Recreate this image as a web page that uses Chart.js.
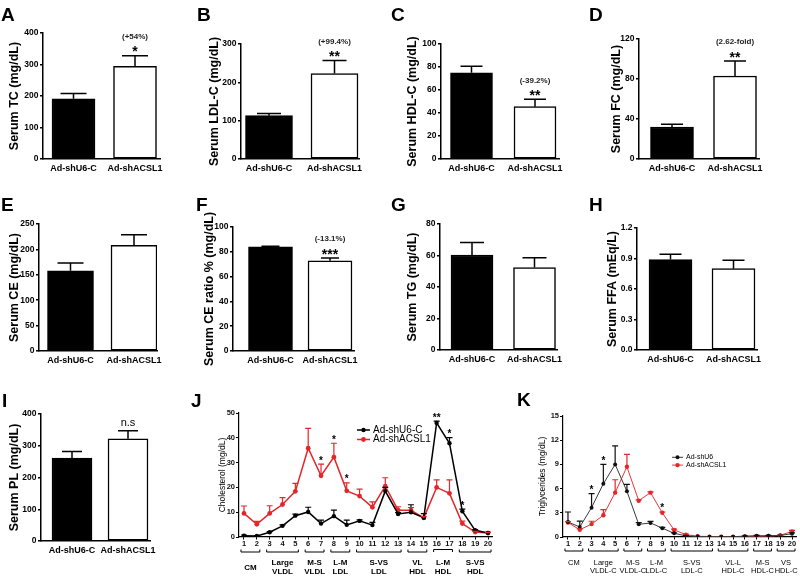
<!DOCTYPE html>
<html><head><meta charset="utf-8">
<script src="https://cdn.jsdelivr.net/npm/chart.js@4.4.0/dist/chart.umd.min.js"></script>
<style>
html,body{margin:0;padding:0;background:#fff;}
body{width:800px;height:577px;position:relative;overflow:hidden;font-family:"Liberation Sans",Arial,sans-serif;}
canvas{position:absolute;}
.lt{position:absolute;font-weight:bold;font-size:19px;line-height:1;color:#000;font-family:"Liberation Sans",Arial,sans-serif;}
</style></head><body>
<script>
// ---------- DATA ----------
const cats = ['Ad-shU6-C', 'Ad-shACSL1'];

const tcMean = [191, 294], tcErr = [17, 34], tcTicks = [0, 100, 200, 300, 400];
const tcStars = ['', '*'], tcNotes = ['', '(+54%)'];

const ldlMean = [113, 223], ldlErr = [6, 34], ldlTicks = [0, 100, 200, 300];
const ldlStars = ['', '**'], ldlNotes = ['', '(+99.4%)'];

const hdlMean = [75, 45.5], hdlErr = [5.6, 6.4], hdlTicks = [0, 20, 40, 60, 80, 100];
const hdlStars = ['', '**'], hdlNotes = ['', '(-39.2%)'];

const fcMean = [32, 83], fcErr = [2.8, 15], fcTicks = [0, 40, 80, 120];
const fcStars = ['', '**'], fcNotes = ['', '(2.62-fold)'];

const ceMean = [158, 208], ceErr = [15, 21], ceTicks = [0, 50, 100, 150, 200, 250];

const ceRatioMean = [84, 72.8], ceRatioErr = [0.4, 2.2], ceRatioTicks = [0, 20, 40, 60, 80, 100];
const ceRatioStars = ['', '***'], ceRatioNotes = ['', '(-13.1%)'];

const tgMean = [60.3, 52.4], tgErr = [8, 6.2], tgTicks = [0, 20, 40, 60, 80];

const ffaMean = [0.89, 0.80], ffaErr = [0.052, 0.082], ffaTicks = [0, 0.3, 0.6, 0.9, 1.2];

const plMean = [261, 322], plErr = [21, 25], plTicks = [0, 100, 200, 300, 400];
const plStars = ['', 'n.s'];

// J: cholesterol FPLC profile
const jFractions = [1,2,3,4,5,6,7,8,9,10,11,12,13,14,15,16,17,18,19,20];
const jShU6    = [0.5, 0.4, 1.9, 4.5, 8.6, 10.1, 5.4, 8.4, 4.9, 6.5, 4.8, 18.5, 9.3, 10.0, 7.8, 46.0, 37.8, 10.4, 2.7, 1.6];
const jShU6Err = [0.3, 0.2, 0.3, 0.4, 0.6, 1.9, 1.4, 2.4, 1.9, 0.4, 1.1, 1.5, 0.5, 3.0, 1.6, 0.7, 2.3, 0.8, 0.3, 0.3];
const jACSL1    = [9.5, 5.1, 9.5, 13.1, 18.4, 35.8, 24.7, 32.2, 18.6, 16.5, 12.0, 20.5, 10.8, 10.8, 7.7, 20.0, 17.6, 5.4, 2.0, 1.6];
const jACSL1Err = [3.0, 1.2, 3.1, 2.8, 3.2, 8.0, 4.7, 5.6, 3.2, 2.8, 2.2, 3.4, 1.4, 1.1, 0.5, 3.0, 5.4, 1.0, 0.3, 0.3];
const jTicks = [0, 10, 20, 30, 40, 50];
const jStars = ['', '', '', '', '', '', '*', '*', '*', '', '', '', '', '', '', '**', '*', '*', '', ''];
const jGroupNames = ['CM', 'Large\nVLDL', 'M-S\nVLDL', 'L-M\nLDL', 'S-VS\nLDL', 'VL\nHDL', 'L-M\nHDL', 'S-VS\nHDL'];
const jGroupFrom = [1, 3, 6, 8, 10, 14, 16, 18];
const jGroupTo   = [2, 5, 7, 9, 13, 15, 17, 20];
const jGroupFlip = [false, false, false, false, false, false, true, false];

// K: triglyceride FPLC profile
const kFractions = [1,2,3,4,5,6,7,8,9,10,11,12,13,14,15,16,17,18,19,20];
const kShU6    = [1.86, 1.24, 3.64, 6.6, 9.0, 5.66, 1.57, 1.74, 1.1, 0.45, 0.15, 0.05, 0.04, 0.04, 0.04, 0.1, 0.15, 0.15, 0.2, 0.4];
const kShU6Err = [1.24, 0.74, 1.73, 2.4, 2.3, 0.87, 0.2, 0.2, 0.1, 0.05, 0.05, 0, 0, 0, 0, 0.05, 0.05, 0.05, 0.05, 0.1];
const kACSL1    = [1.8, 0.9, 1.6, 2.7, 5.5, 8.7, 4.5, 5.5, 3.0, 0.87, 0.3, 0.1, 0.05, 0.05, 0.05, 0.08, 0.1, 0.12, 0.2, 0.7];
const kACSL1Err = [0.1, 0.1, 0.35, 0.7, 1.6, 1.55, 0.1, 0.1, 0.1, 0.1, 0.05, 0, 0, 0, 0, 0, 0, 0, 0.05, 0.12];
const kTicks = [0, 3, 6, 9, 12, 15];
const kStars = ['', '', '*', '*', '', '', '', '', '*', '', '', '', '', '', '', '', '', '', '', ''];
const kGroupNames = ['CM', 'Large\nVLDL-C', 'M-S\nVLDL-C', 'L-M\nLDL-C', 'S-VS\nLDL-C', 'VL-L\nHDL-C', 'M-S\nHDL-C', 'VS\nHDL-C'];
const kGroupFrom = [1, 3, 6, 8, 10, 14, 17, 19];
const kGroupTo   = [2, 5, 7, 9, 13, 16, 18, 20];
const kGroupFlip = [false, false, false, false, false, false, false, false];

// ---------- helpers ----------
const FONT = '"Liberation Sans", Arial, sans-serif';

function errPlugin(cap, width) {
  return { id: 'errbars', afterDatasetsDraw(chart) {
    const ctx = chart.ctx, ys = chart.scales.y;
    chart.data.datasets.forEach((ds, di) => {
      if (!ds.errors) return;
      const meta = chart.getDatasetMeta(di);
      meta.data.forEach((el, i) => {
        const e = ds.errors[i]; if (!e) return;
        const v = meta.controller.getParsed(i).y;
        const yT = ys.getPixelForValue(v + e);
        ctx.save(); ctx.strokeStyle = ds.errColor; ctx.lineWidth = width;
        ctx.beginPath(); ctx.moveTo(el.x, el.y); ctx.lineTo(el.x, yT);
        ctx.moveTo(el.x - cap, yT); ctx.lineTo(el.x + cap, yT); ctx.stroke(); ctx.restore();
      });
    });
  }};
}

function notesPlugin(stars, notes, o) {
  return { id: 'notes', afterDatasetsDraw(chart) {
    if (!stars) return;
    const ctx = chart.ctx, ys = chart.scales.y, xs = chart.scales.x;
    ctx.save(); ctx.fillStyle = '#000'; ctx.textAlign = 'center';
    stars.forEach((s, i) => {
      if (!s && !(notes && notes[i])) return;
      let top = -Infinity, px = null;
      chart.data.datasets.forEach((ds, di) => {
        const p = chart.getDatasetMeta(di).controller.getParsed(i);
        if (!p) return; px = p.x;
        top = Math.max(top, p.y + (ds.errors ? ds.errors[i] : 0));
      });
      const y = ys.getPixelForValue(top), x = xs.getPixelForValue(px);
      if (s) { ctx.font = o.starFont; ctx.textBaseline = 'alphabetic'; ctx.fillText(s, x, y + o.starDy); }
      if (notes && notes[i]) { ctx.font = o.noteFont; ctx.textBaseline = 'middle'; ctx.fillStyle = '#222'; ctx.fillText(notes[i], x, y + o.noteDy); ctx.fillStyle = '#000'; }
    });
    ctx.restore();
  }};
}

// legend position given in page coordinates, converted to canvas coordinates
function legendPlugin(o, offX, offY) {
  return { id: 'lgd', afterDatasetsDraw(chart) {
    const ctx = chart.ctx;
    ctx.save();
    chart.data.datasets.forEach((ds, k) => {
      const x = o.x - offX, y = o.y - offY + k * o.dy;
      ctx.strokeStyle = ds.borderColor; ctx.lineWidth = ds.borderWidth;
      ctx.beginPath(); ctx.moveTo(x, y); ctx.lineTo(x + o.len, y); ctx.stroke();
      ctx.fillStyle = ds.pointBackgroundColor;
      ctx.beginPath(); ctx.arc(x + o.len / 2, y, ds.pointRadius, 0, Math.PI * 2); ctx.fill();
      ctx.fillStyle = '#000'; ctx.font = o.font; ctx.textAlign = 'left'; ctx.textBaseline = 'middle';
      ctx.fillText(ds.label, x + o.len + 3, y);
    });
    ctx.restore();
  }};
}

function groupPlugin(names, from, to, flips, o) {
  return { id: 'grp', afterDraw(chart) {
    const ctx = chart.ctx, xs = chart.scales.x, base = chart.chartArea.bottom;
    ctx.save(); ctx.strokeStyle = '#000'; ctx.lineWidth = 1; ctx.fillStyle = '#000';
    ctx.font = o.font; ctx.textAlign = 'center'; ctx.textBaseline = 'middle';
    names.forEach((nm, i) => {
      const a = xs.getPixelForValue(from[i]) - 3, b = xs.getPixelForValue(to[i]) + 3;
      const by = base + o.by, t = o.tick;
      ctx.beginPath();
      if (flips[i]) { ctx.moveTo(a, by); ctx.lineTo(a, by - t); ctx.lineTo(b, by - t); ctx.lineTo(b, by); }
      else { ctx.moveTo(a, by - t); ctx.lineTo(a, by); ctx.lineTo(b, by); ctx.lineTo(b, by - t); }
      ctx.stroke();
      const lines = nm.split('\n'), cx = (a + b) / 2;
      if (lines.length === 1) ctx.fillText(lines[0], cx, base + o.single);
      else lines.forEach((tx, k) => ctx.fillText(tx, cx, base + o.l1 + k * o.lh));
    });
    ctx.restore();
  }};
}

function makeCanvas(left, top, W, H) {
  const cv = document.createElement('canvas');
  cv.width = W; cv.height = H;
  cv.style.left = left + 'px'; cv.style.top = top + 'px';
  cv.style.width = W + 'px'; cv.style.height = H + 'px';
  document.body.appendChild(cv);
  return cv;
}

function barPanel(s, title, mean, err, ticks, stars, notes, fmt, starOpt) {
  const left = Math.max(0, Math.round(s.titleX - 12));
  const top = Math.max(0, s.yTop - 40);
  const R = 12, B = 22;
  const cv = makeCanvas(left, top, s.x1 + R - left, s.yBot + B - top);
  const d = s.cw - s.cb;
  new Chart(cv, {
    type: 'bar',
    data: { datasets: [{
      data: mean.map((v, i) => ({ x: i + 1, y: v })),
      backgroundColor: ['#000', '#fff'], borderColor: '#000', borderWidth: 1.5,
      borderSkipped: false, barThickness: s.barW, errors: err, errColor: '#000'
    }]},
    options: {
      responsive: false, animation: false, devicePixelRatio: 1,
      layout: { padding: { left: 0, top: s.yTop - top, right: R, bottom: 0 } },
      plugins: { legend: { display: false }, tooltip: { enabled: false } },
      scales: {
        x: {
          type: 'linear', offset: false,
          min: 1 - (s.cb - s.x0) / d, max: 2 + (s.x1 - s.cw) / d,
          afterBuildTicks: sc => { sc.ticks = cats.map((c, i) => ({ value: i + 1 })); },
          afterFit: sc => { sc.height = B; },
          grid: { display: false, drawTicks: false },
          border: { display: true, color: '#000', width: 1.5 },
          ticks: { autoSkip: false, maxRotation: 0, padding: 4, color: '#000',
                   font: { family: FONT, size: 9, weight: 'bold' }, callback: v => cats[v - 1] }
        },
        y: {
          min: ticks[0], max: ticks[ticks.length - 1],
          afterBuildTicks: sc => { sc.ticks = ticks.map(v => ({ value: v })); },
          afterFit: sc => { sc.width = s.x0 - left; },
          grid: { display: true, drawOnChartArea: false, drawTicks: true, tickLength: 3, color: '#000', lineWidth: 1.5 },
          border: { display: true, color: '#000', width: 1.5 },
          ticks: { padding: 1.5, color: '#000', font: { family: FONT, size: 8.5, weight: 'bold' },
                   callback: fmt || (v => v) },
          title: { display: true, text: title, color: '#000',
                   font: { family: FONT, size: 12.5, weight: 'bold' }, padding: { top: 4.5, bottom: 0 } }
        }
      }
    },
    plugins: [errPlugin(s.cap, 1.5), notesPlugin(stars, notes, starOpt || {
      starFont: 'bold 14px ' + FONT, starDy: 0.5, noteFont: 'bold 8px ' + FONT, noteDy: -19 })]
  });
}

function linePanel(s, title, fr, series, ticks, stars, grp, lg) {
  const left = Math.round(s.titleX - 8);
  const top = s.yTop - 20;
  const R = 3, B = 577 - s.yBot;
  const cv = makeCanvas(left, top, s.x1 + R - left, 577 - top);
  const d = (s.p20 - s.p1) / (fr[fr.length - 1] - fr[0]);
  new Chart(cv, {
    type: 'line',
    data: { datasets: series.map(sr => ({
      label: sr.label, data: fr.map((f, i) => ({ x: f, y: sr.mean[i] })),
      borderColor: sr.line, backgroundColor: sr.point, borderWidth: sr.width,
      pointRadius: sr.r, pointBackgroundColor: sr.point, pointBorderWidth: 0, pointBorderColor: sr.point,
      tension: 0, errors: sr.err, errColor: sr.point
    }))},
    options: {
      responsive: false, animation: false, devicePixelRatio: 1,
      layout: { padding: { left: 0, top: s.yTop - top, right: R, bottom: 0 } },
      plugins: { legend: { display: false }, tooltip: { enabled: false } },
      scales: {
        x: {
          type: 'linear', offset: false,
          min: fr[0] - (s.p1 - s.x0) / d, max: fr[fr.length - 1] + (s.x1 - s.p20) / d,
          afterBuildTicks: sc => { sc.ticks = fr.map(v => ({ value: v })); },
          afterFit: sc => { sc.height = B; },
          grid: { display: true, drawOnChartArea: false, drawTicks: true, tickLength: 2.5, color: '#000', lineWidth: 1 },
          border: { display: true, color: '#000', width: 1.2 },
          ticks: { autoSkip: false, maxRotation: 0, padding: 0, color: '#111',
                   font: { family: FONT, size: 7.5, weight: 'bold' }, callback: v => String(v) }
        },
        y: {
          min: ticks[0], max: ticks[ticks.length - 1],
          afterBuildTicks: sc => { sc.ticks = ticks.map(v => ({ value: v })); },
          afterFit: sc => { sc.width = s.x0 - left; },
          grid: { display: true, drawOnChartArea: false, drawTicks: true, tickLength: 3, color: '#000', lineWidth: 1 },
          border: { display: true, color: '#000', width: 1.2 },
          ticks: { padding: 1, color: '#111', font: { family: FONT, size: 7.5, weight: 'bold' } },
          title: { display: true, text: title, color: '#000',
                   font: { family: FONT, size: 8.5 }, padding: { top: 2.9, bottom: 0 } }
        }
      }
    },
    plugins: [errPlugin(3, 1.2),
              notesPlugin(stars, null, { starFont: 'bold 10px ' + FONT, starDy: -0.5 }),
              legendPlugin(lg, left, top), groupPlugin(grp.names, grp.from, grp.to, grp.flip, grp.o)]
  });
}

// ---------- panel geometry ----------
const G = {
  A: { x0: 43,  x1: 160, yTop: 33,  yBot: 159, cb: 73.5,  cw: 135,   barW: 43, titleX: 15,  cap: 13 },
  B: { x0: 241, x1: 359, yTop: 44,  yBot: 159, cb: 269,   cw: 334.5, barW: 47, titleX: 215, cap: 12 },
  C: { x0: 441, x1: 559, yTop: 44,  yBot: 159, cb: 471.5, cw: 535,   barW: 42, titleX: 413, cap: 11 },
  D: { x0: 639, x1: 759, yTop: 39,  yBot: 159, cb: 672,   cw: 735,   barW: 43, titleX: 617, cap: 11 },
  E: { x0: 39,  x1: 157, yTop: 224, yBot: 351, cb: 70.5,  cw: 134,   barW: 46, titleX: 15,  cap: 13 },
  F: { x0: 233, x1: 354, yTop: 227, yBot: 351, cb: 270.5, cw: 330,   barW: 44, titleX: 210, cap: 9 },
  G: { x0: 440, x1: 557, yTop: 224, yBot: 350, cb: 472,   cw: 534.5, barW: 42, titleX: 413, cap: 12 },
  H: { x0: 637, x1: 757, yTop: 228, yBot: 350, cb: 670.5, cw: 733.5, barW: 43, titleX: 613, cap: 11 },
  I: { x0: 41,  x1: 150, yTop: 414, yBot: 541, cb: 72,    cw: 128,   barW: 40, titleX: 15,  cap: 10 },
  J: { x0: 239, x1: 493, yTop: 413, yBot: 537, p1: 244, p20: 489, titleX: 223 },
  K: { x0: 563, x1: 797, yTop: 416, yBot: 537, p1: 568, p20: 793, titleX: 543 }
};

barPanel(G.A, 'Serum TC (mg/dL)', tcMean, tcErr, tcTicks, tcStars, tcNotes);
barPanel(G.B, 'Serum LDL-C (mg/dL)', ldlMean, ldlErr, ldlTicks, ldlStars, ldlNotes);
barPanel(G.C, 'Serum HDL-C (mg/dL)', hdlMean, hdlErr, hdlTicks, hdlStars, hdlNotes);
barPanel(G.D, 'Serum FC (mg/dL)', fcMean, fcErr, fcTicks, fcStars, fcNotes);
barPanel(G.E, 'Serum CE (mg/dL)', ceMean, ceErr, ceTicks, null, null);
barPanel(G.F, 'Serum CE ratio % (mg/dL)', ceRatioMean, ceRatioErr, ceRatioTicks, ceRatioStars, ceRatioNotes);
barPanel(G.G, 'Serum TG (mg/dL)', tgMean, tgErr, tgTicks, null, null);
barPanel(G.H, 'Serum FFA (mEq/L)', ffaMean, ffaErr, ffaTicks, null, null, v => v.toFixed(1));
barPanel(G.I, 'Serum PL (mg/dL)', plMean, plErr, plTicks, plStars, null, null,
         { starFont: '11px ' + FONT, starDy: -4.5, noteFont: '8px ' + FONT, noteDy: -19 });

linePanel(G.J, 'Cholesterol (mg/dL)', jFractions, [
  { label: 'Ad-shU6-C', mean: jShU6, err: jShU6Err, line: '#000', point: '#000', width: 1.5, r: 2.2 },
  { label: 'Ad-shACSL1', mean: jACSL1, err: jACSL1Err, line: '#e3262b', point: '#e3262b', width: 1.5, r: 2.4 }
], jTicks, jStars,
  { names: jGroupNames, from: jGroupFrom, to: jGroupTo, flip: jGroupFlip,
    o: { font: 'bold 8px ' + FONT, by: 15, tick: 2.5, l1: 26, lh: 9, single: 30.5 } },
  { x: 357, y: 430, dy: 9.5, len: 13, font: '10px ' + FONT });

linePanel(G.K, 'Triglycerides (mg/dL)', kFractions, [
  { label: 'Ad-shU6', mean: kShU6, err: kShU6Err, line: '#3a3a3a', point: '#111', width: 1, r: 2 },
  { label: 'Ad-shACSL1', mean: kACSL1, err: kACSL1Err, line: '#e8363b', point: '#e3262b', width: 1, r: 2.2 }
], kTicks, kStars,
  { names: kGroupNames, from: kGroupFrom, to: kGroupTo, flip: kGroupFlip,
    o: { font: '7.5px ' + FONT, by: 14, tick: 2.5, l1: 26, lh: 8, single: 26 } },
  { x: 672, y: 457.3, dy: 7.8, len: 11, font: '7px ' + FONT });
</script>
<div class="lt" style="left:1px;top:4.5px">A</div>
<div class="lt" style="left:197px;top:4.5px">B</div>
<div class="lt" style="left:391px;top:4.5px">C</div>
<div class="lt" style="left:589px;top:4.5px">D</div>
<div class="lt" style="left:1px;top:194.5px">E</div>
<div class="lt" style="left:196px;top:194.5px">F</div>
<div class="lt" style="left:391px;top:194.5px">G</div>
<div class="lt" style="left:589px;top:194.5px">H</div>
<div class="lt" style="left:2px;top:390.5px">I</div>
<div class="lt" style="left:191px;top:390.5px">J</div>
<div class="lt" style="left:517px;top:389.5px">K</div>
</body></html>
